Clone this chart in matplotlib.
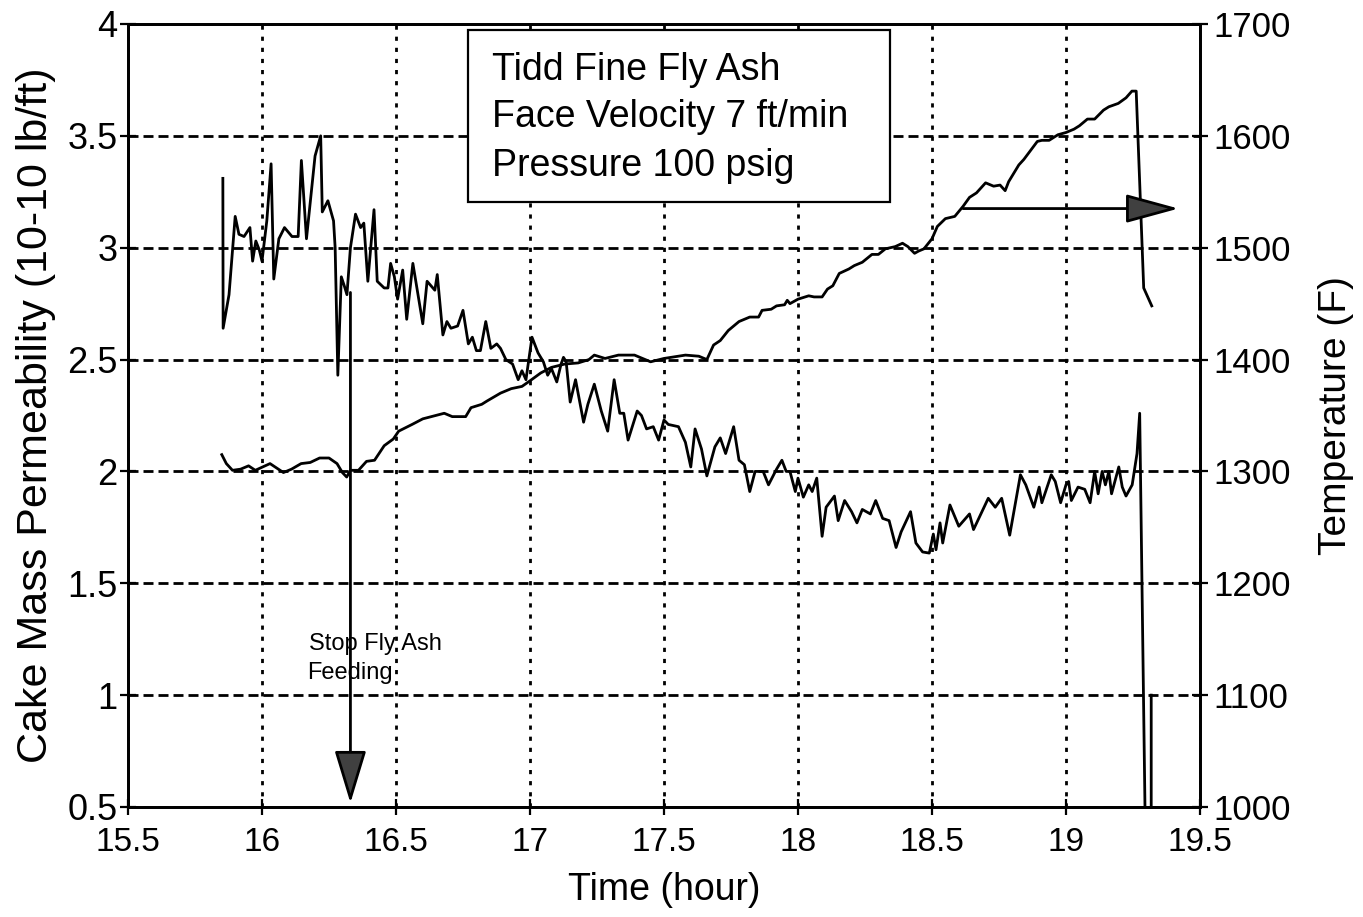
import matplotlib
matplotlib.use("Agg")
import matplotlib.pyplot as plt
from matplotlib.patches import Rectangle
from matplotlib.ticker import FuncFormatter

plt.rcParams['font.family'] = ['Liberation Sans', 'DejaVu Sans']

# ---------------- data ----------------
perm_time = [15.854, 15.855, 15.877, 15.90, 15.914, 15.933, 15.955, 15.965, 15.977, 15.99,
             16.0, 16.018, 16.034, 16.044, 16.063, 16.084, 16.112, 16.135, 16.147, 16.166,
             16.198, 16.219, 16.225, 16.246, 16.267, 16.273, 16.283, 16.296, 16.307, 16.317,
             16.33, 16.349, 16.368, 16.38, 16.395, 16.418, 16.43, 16.456, 16.47, 16.48,
             16.494, 16.506, 16.525, 16.54, 16.563, 16.60, 16.616, 16.645, 16.654, 16.675,
             16.69, 16.705, 16.73, 16.75, 16.77, 16.785, 16.80, 16.815, 16.835, 16.854,
             16.876, 16.89, 16.91, 16.935, 16.956, 16.97, 16.985, 17.0075, 17.03, 17.05,
             17.066, 17.08, 17.10, 17.116, 17.125, 17.135, 17.15, 17.17, 17.20, 17.216,
             17.24, 17.266, 17.29, 17.314, 17.335, 17.35, 17.366, 17.40, 17.416, 17.435,
             17.46, 17.48, 17.50, 17.516, 17.554, 17.58, 17.60, 17.616, 17.64, 17.66,
             17.69, 17.71, 17.73, 17.76, 17.78, 17.80, 17.82, 17.84, 17.87, 17.89,
             17.92, 17.94, 17.956, 17.97, 17.99, 18.0, 18.02, 18.04, 18.053, 18.07,
             18.09, 18.105, 18.136, 18.15, 18.174, 18.20, 18.22, 18.24, 18.27, 18.29,
             18.316, 18.34, 18.366, 18.385, 18.42, 18.44, 18.465, 18.49, 18.505, 18.515,
             18.53, 18.54, 18.567, 18.60, 18.64, 18.655, 18.71, 18.736, 18.76, 18.79,
             18.83, 18.85, 18.88, 18.90, 18.91, 18.945, 18.96, 18.98, 19.0, 19.01,
             19.02, 19.045, 19.07, 19.09, 19.107, 19.12, 19.135, 19.147, 19.16, 19.17,
             19.197, 19.21, 19.224, 19.247, 19.265, 19.275, 19.297, 19.318, 19.318]
perm_value = [3.31, 2.64, 2.79, 3.14, 3.06, 3.05, 3.09, 2.94, 3.03, 2.99,
              2.94, 3.12, 3.375, 2.86, 3.04, 3.09, 3.05, 3.05, 3.39, 3.04,
              3.41, 3.50, 3.16, 3.21, 3.12, 3.00, 2.43, 2.87, 2.83, 2.79,
              3.00, 3.15, 3.09, 3.11, 2.85, 3.17, 2.85, 2.82, 2.82, 2.93,
              2.87, 2.77, 2.90, 2.68, 2.93, 2.66, 2.85, 2.81, 2.88, 2.61,
              2.67, 2.64, 2.65, 2.72, 2.57, 2.60, 2.54, 2.54, 2.67, 2.55,
              2.57, 2.55, 2.50, 2.48, 2.41, 2.45, 2.41, 2.60, 2.53, 2.49,
              2.43, 2.46, 2.40, 2.48, 2.51, 2.49, 2.31, 2.41, 2.22, 2.30,
              2.39, 2.27, 2.18, 2.41, 2.26, 2.26, 2.14, 2.27, 2.25, 2.19,
              2.20, 2.14, 2.23, 2.21, 2.20, 2.13, 2.02, 2.19, 2.10, 1.98,
              2.11, 2.15, 2.08, 2.20, 2.05, 2.03, 1.91, 2.00, 2.00, 1.94,
              2.01, 2.05, 2.00, 2.00, 1.91, 1.97, 1.885, 1.94, 1.91, 1.97,
              1.71, 1.84, 1.89, 1.78, 1.87, 1.82, 1.77, 1.83, 1.81, 1.87,
              1.79, 1.78, 1.66, 1.73, 1.82, 1.68, 1.64, 1.635, 1.72, 1.65,
              1.77, 1.68, 1.85, 1.755, 1.81, 1.74, 1.88, 1.84, 1.88, 1.715,
              1.985, 1.94, 1.84, 1.93, 1.86, 1.985, 1.955, 1.86, 1.94, 1.955,
              1.87, 1.93, 1.92, 1.86, 2.00, 1.90, 2.00, 1.94, 2.00, 1.90,
              2.02, 1.93, 1.89, 1.94, 2.08, 2.26, 0.30, 0.30, 1.00]

temp_time = [15.85, 15.867, 15.89, 15.92, 15.95, 15.975, 16.03, 16.08, 16.11, 16.146,
             16.18, 16.215, 16.25, 16.28, 16.30, 16.316, 16.33, 16.36, 16.39, 16.42,
             16.456, 16.49, 16.51, 16.56, 16.60, 16.68, 16.71, 16.76, 16.78, 16.82,
             16.84, 16.89, 16.93, 16.97, 17.0, 17.04, 17.08, 17.13, 17.18, 17.22,
             17.24, 17.28, 17.33, 17.39, 17.45, 17.5, 17.58, 17.63, 17.66, 17.685,
             17.71, 17.74, 17.78, 17.82, 17.853, 17.866, 17.90, 17.92, 17.95, 17.96,
             17.97, 18.0, 18.04, 18.06, 18.09, 18.11, 18.13, 18.154, 18.19, 18.21,
             18.24, 18.276, 18.30, 18.326, 18.363, 18.39, 18.41, 18.435, 18.45, 18.47,
             18.5, 18.52, 18.55, 18.585, 18.616, 18.64, 18.666, 18.70, 18.73, 18.754,
             18.773, 18.786, 18.824, 18.843, 18.893, 18.91, 18.937, 18.97, 19.0, 19.03,
             19.05, 19.08, 19.107, 19.14, 19.16, 19.195, 19.224, 19.246, 19.262, 19.29,
             19.32]
temp_value = [1315, 1307, 1301, 1302, 1305, 1301, 1307, 1299, 1302, 1307,
              1308, 1312, 1312, 1307, 1299, 1295, 1301, 1301, 1309, 1310,
              1323, 1329, 1336, 1342, 1347, 1352, 1349, 1349, 1357, 1360,
              1363, 1370, 1374, 1376, 1381, 1388, 1393, 1396, 1397, 1400,
              1404, 1401, 1404, 1404, 1398, 1401, 1404, 1403, 1400, 1413,
              1417, 1426, 1434, 1438, 1438, 1444, 1445, 1448, 1449, 1453,
              1450, 1454, 1457, 1456, 1456, 1463, 1466, 1477, 1481, 1484,
              1487, 1494, 1494, 1499, 1501, 1504, 1501, 1495, 1497, 1499,
              1508, 1519, 1526, 1528, 1537, 1545, 1549, 1558, 1555, 1556,
              1551, 1559, 1574, 1579, 1595, 1596, 1596, 1601, 1603, 1606,
              1609, 1615, 1615, 1623, 1626, 1629, 1634, 1640, 1640, 1464,
              1448]

x_ticks = [15.5, 16, 16.5, 17, 17.5, 18, 18.5, 19, 19.5]
left_ticks = [0.5, 1, 1.5, 2, 2.5, 3, 3.5, 4]
right_ticks = [1000, 1100, 1200, 1300, 1400, 1500, 1600, 1700]

box_lines = ["Tidd Fine Fly Ash", "Face Velocity 7 ft/min", "Pressure 100 psig"]
note_lines = ["Stop Fly Ash", "Feeding"]
stop_arrow = (16.33, 2.80, 0.518)       # time, start, end (left axis)
temp_arrow = (18.616, 19.42, 1535)      # start time, end time, temperature

# ---------------- figure ----------------
fig = plt.figure(figsize=(13.63, 9.17), dpi=100)
ax = fig.add_axes([0.0939, 0.11996, 0.7865, 0.85387])
ax2 = ax.twinx()

ax.set_xlim(15.5, 19.5)
ax.set_ylim(0.5, 4)
ax2.set_ylim(1000, 1700)

fmt = FuncFormatter(lambda v, p: f"{v:g}")
ax.set_xticks(x_ticks)
ax.set_yticks(left_ticks)
ax2.set_yticks(right_ticks)
ax.xaxis.set_major_formatter(fmt)
ax.yaxis.set_major_formatter(fmt)
ax2.yaxis.set_major_formatter(fmt)

ax.grid(axis='y', color='black', lw=2.0, ls=(0, (3.6, 1.8)))
ax.grid(axis='x', color='black', lw=2.0, ls=(0, (1.5, 2.5)))
ax.set_axisbelow(True)

for a in (ax, ax2):
    for s in a.spines.values():
        s.set_linewidth(2.0)
ax.tick_params(axis='both', direction='inout', length=11, width=1.6)
ax.tick_params(axis='y', labelsize=26, pad=2)
ax.tick_params(axis='x', labelsize=24, pad=9)
ax2.tick_params(axis='y', direction='inout', length=11, width=1.6, labelsize=25, pad=4)

ax.plot(perm_time, perm_value, color='black', lw=2.0, zorder=3)
ax2.plot(temp_time, temp_value, color='black', lw=2.0, zorder=3)

ax.set_xlabel("Time (hour)", fontsize=27, labelpad=10)
ax.set_ylabel("Cake Mass Permeability (10-10 lb/ft)", fontsize=31, labelpad=8)
ax2.set_ylabel("Temperature (F)", fontsize=28, labelpad=20)

# text box
ax2.add_patch(Rectangle((0.3172, 0.7727), 0.3936, 0.2196, transform=ax2.transAxes,
                        facecolor='white', edgecolor='black', lw=1.6, zorder=5))
for yb, line in zip([0.9285, 0.8685, 0.8059], box_lines):
    ax2.text(0.3396, yb, line, transform=ax2.transAxes, fontsize=27,
             va='baseline', ha='left', zorder=6)

# arrows
ax.annotate('', xy=(stop_arrow[0], stop_arrow[2]), xytext=(stop_arrow[0], stop_arrow[1]),
            arrowprops=dict(arrowstyle='-|>,head_length=3.3,head_width=1.0',
                            mutation_scale=10, lw=2.0, fc='#404040', ec='black',
                            shrinkA=0, shrinkB=0), zorder=4)
ax2.annotate('', xy=(temp_arrow[1], temp_arrow[2]), xytext=(temp_arrow[0], temp_arrow[2]),
             arrowprops=dict(arrowstyle='-|>,head_length=3.3,head_width=0.9',
                             mutation_scale=10, lw=2.0, fc='#404040', ec='black',
                             shrinkA=0, shrinkB=0), zorder=4)

ax.text(16.175, 1.202, note_lines[0], fontsize=17, va='baseline', ha='left', zorder=4)
ax.text(16.169, 1.072, note_lines[1], fontsize=17, va='baseline', ha='left', zorder=4)

fig.savefig("out.png", dpi=100)
